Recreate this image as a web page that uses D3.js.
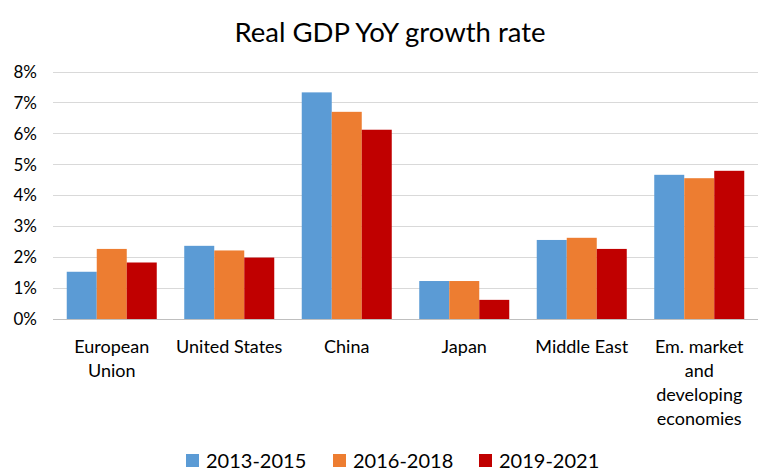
<!DOCTYPE html>
<html><head><meta charset="utf-8">
<script src="https://cdn.jsdelivr.net/npm/d3@7"></script>
<style>body{margin:0;background:#fff}svg{display:block}</style>
</head><body><svg id="c" width="778" height="471"></svg>
<script>
const categories = ["European\nUnion","United States","China","Japan","Middle East","Em. market\nand\ndeveloping\neconomies"];
const seriesNames = ["2013-2015","2016-2018","2019-2021"];
const s2013 = [1.53, 2.37, 7.34, 1.23, 2.56, 4.67];
const s2016 = [2.27, 2.22, 6.71, 1.23, 2.63, 4.56];
const s2019 = [1.83, 1.99, 6.13, 0.62, 2.27, 4.80];
const colors = ["#5b9bd5","#ed7d31","#c00000"];
const yTicks = [0,1,2,3,4,5,6,7,8];
const title = "Real GDP YoY growth rate";

const series = [s2013, s2016, s2019];
const svg = d3.select("#c");
const font = "Lato, 'Open Sans', sans-serif";
const m = {l:53, r:20, t:72, b:152};
const W = 778, H = 471;
const x0 = d3.scaleBand().domain(categories).range([m.l, W - m.r]).paddingInner(0.234).paddingOuter(0.117);
const x1 = d3.scaleBand().domain(seriesNames).range([0, x0.bandwidth()]);
const y = d3.scaleLinear().domain([0,8]).range([H - m.b, m.t]);

svg.append("text").attr("x", 390).attr("y", 42).attr("text-anchor","middle")
  .attr("font-family", font).attr("font-size", 27.5).attr("fill","#000").text(title);

// gridlines
svg.append("g").selectAll("line").data(yTicks.filter(d=>d>0)).join("line")
  .attr("x1", m.l).attr("x2", W - m.r).attr("y1", d=>y(d)).attr("y2", d=>y(d))
  .attr("stroke","#d9d9d9").attr("stroke-width",1).attr("shape-rendering","crispEdges");

// y labels
const yAxis = d3.axisLeft(y).tickValues(yTicks).tickFormat(d=>d+"%").tickSize(0).tickPadding(0);
const ga = svg.append("g").attr("transform", `translate(37,0)`).call(yAxis);
ga.select(".domain").remove();
ga.selectAll("text").attr("font-family", font).attr("font-size", 17).attr("fill","#000");

// bars
const groups = svg.append("g").selectAll("g").data(categories).join("g")
  .attr("transform", d=>`translate(${x0(d)},0)`);
groups.selectAll("rect").data((d,i)=>series.map((s,k)=>({k, v:s[i]}))).join("rect")
  .attr("x", d=>x1(seriesNames[d.k])).attr("width", x1.bandwidth())
  .attr("y", d=>y(d.v)).attr("height", d=>y(0)-y(d.v)).attr("fill", d=>colors[d.k]);

// baseline
svg.append("line").attr("x1", m.l).attr("x2", W - m.r).attr("y1", y(0)).attr("y2", y(0))
  .attr("stroke","#bfbfbf").attr("stroke-width",1).attr("shape-rendering","crispEdges");

// category labels
const lab = svg.append("g").selectAll("text").data(categories).join("text")
  .attr("text-anchor","middle").attr("font-family", font).attr("font-size", 18).attr("fill","#000")
  .attr("x", d=>x0(d)+x0.bandwidth()/2).attr("y", 353);
lab.selectAll("tspan").data(d=>d.split("\n")).join("tspan")
  .attr("x", function(){return this.parentNode.getAttribute("x");})
  .attr("dy",(d,i)=>i===0?0:24).text(d=>d);

// legend
const legX = [186, 333, 479];
const leg = svg.append("g").selectAll("g").data(seriesNames).join("g")
  .attr("transform",(d,i)=>`translate(${legX[i]},454)`);
leg.append("rect").attr("width",13).attr("height",13).attr("fill",(d,i)=>colors[i]);
leg.append("text").attr("x",20).attr("y",14).attr("font-family",font).attr("font-size",20)
  .attr("fill","#000").text(d=>d);
</script></body></html>
